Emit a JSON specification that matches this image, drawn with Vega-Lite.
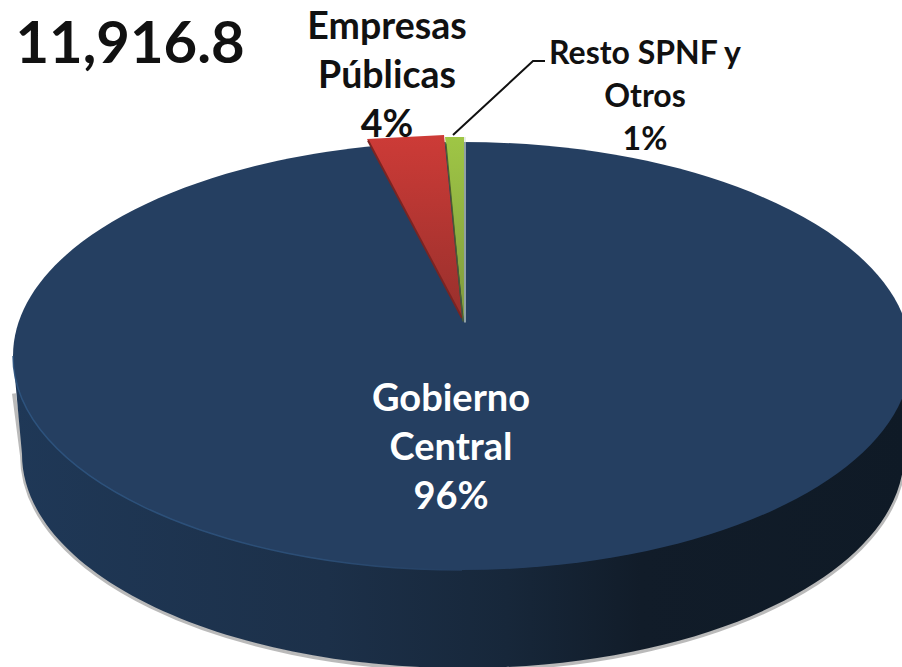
{
"$schema":"https://vega.github.io/schema/vega-lite/v6.json",
"width":902,"height":667,"padding":0,"autosize":{"type":"none"},
"background":"white",
"config":{"view":{"stroke":null}},
"datasets":{
"shares":[
{"segment":"Gobierno Central","share":96,"label":"Gobierno\nCentral\n96%"},
{"segment":"Empresas Públicas","share":4,"label":"Empresas\nPúblicas\n4%"},
{"segment":"Resto SPNF y Otros","share":1,"label":"Resto SPNF y\nOtros\n1%"}
],
"total":[{"total":11916.8}]
},
"data":{"name":"shares"},
"layer":[
{"transform":[{"filter":"datum.segment==='Gobierno Central'"}],
 "mark":{"type":"point","size":4,"filled":false,"opacity":0.5,"stroke":"#777777","strokeWidth":4},
 "encoding":{"shape":{"value":"M-437,60 L-429,122 A441,214 0 0 0 453,122"}}},
{"transform":[{"filter":"datum.segment==='Gobierno Central'"}],
 "mark":{"type":"point","size":4,"filled":true,"opacity":1,"strokeWidth":0,
  "fill":{"gradient":"linear","x1":0,"y1":0,"x2":1,"y2":0,"stops":[{"offset":0,"color":"#1f3857"},{"offset":0.35,"color":"#1c3049"},{"offset":0.55,"color":"#17273a"},{"offset":0.7,"color":"#111c29"},{"offset":1,"color":"#0f1a26"}]}},
 "encoding":{"shape":{"value":"M-438,22.5 L-429,120.5 A441,214 0 0 0 453,120.5 L460,22.5 Z"}}},
{"transform":[{"filter":"datum.segment==='Gobierno Central'"}],
 "mark":{"type":"point","size":4,"filled":true,"opacity":1,"strokeWidth":0,"fill":"#253f61"},
 "encoding":{"shape":{"value":"M-438,22.5 A449,214 0 1 1 460,22.5 A449,214 0 1 1 -438,22.5 Z"}}},
{"transform":[{"filter":"datum.segment==='Gobierno Central'"}],
 "mark":{"type":"point","size":4,"filled":false,"opacity":0.9,"strokeWidth":1.5,
  "stroke":{"gradient":"linear","x1":0,"y1":0,"x2":1,"y2":0,"stops":[{"offset":0,"color":"#2f5682"},{"offset":0.7,"color":"#2d5079"},{"offset":1,"color":"#253f61"}]}},
 "encoding":{"shape":{"value":"M-438,22.5 A449,214 0 0 0 11,236.5"}}},
{"transform":[{"filter":"datum.segment==='Empresas Públicas'"}],
 "mark":{"type":"text","font":"Lato","fontWeight":"bold","fontSize":37.5,"lineHeight":49,"align":"center","baseline":"middle","dx":-64,"dy":-305.5,"lineBreak":"\n","color":"#111111"},
 "encoding":{"text":{"field":"label"}}},
{"transform":[{"filter":"datum.segment==='Empresas Públicas'"}],
 "mark":{"type":"point","size":4,"filled":true,"opacity":1,"strokeWidth":0,
  "fill":{"gradient":"linear","x1":0,"y1":0,"x2":0,"y2":1,"stops":[{"offset":0,"color":"#cd3b37"},{"offset":1,"color":"#98302c"}]}},
 "encoding":{"shape":{"value":"M-84,-194.5 L-7,-198.5 L11,-15.5 Z"}}},
{"transform":[{"filter":"datum.segment==='Empresas Públicas'"}],
 "mark":{"type":"point","size":4,"filled":false,"opacity":1,"stroke":"#7a2422","strokeWidth":2},
 "encoding":{"shape":{"value":"M-83,-193 L11,-15.5"}}},
{"transform":[{"filter":"datum.segment==='Resto SPNF y Otros'"}],
 "mark":{"type":"point","size":4,"filled":true,"opacity":1,"strokeWidth":0,
  "fill":{"gradient":"linear","x1":0,"y1":0,"x2":0,"y2":1,"stops":[{"offset":0,"color":"#9fc645"},{"offset":1,"color":"#7f9a3e"}]}},
 "encoding":{"shape":{"value":"M-6,-196.5 L13,-196.5 L13,-11.5 Z"}}},
{"transform":[{"filter":"datum.segment==='Resto SPNF y Otros'"}],
 "mark":{"type":"point","size":4,"filled":false,"opacity":1,"stroke":"#4f5f2c","strokeWidth":1.2},
 "encoding":{"shape":{"value":"M-5,-190 L12,-12"}}},
{"transform":[{"filter":"datum.segment==='Resto SPNF y Otros'"}],
 "mark":{"type":"point","size":4,"filled":false,"opacity":1,"stroke":"#d9e2d4","strokeWidth":1.2},
 "encoding":{"shape":{"value":"M14,-196.5 L14,-11"}}},
{"transform":[{"filter":"datum.segment==='Resto SPNF y Otros'"}],
 "mark":{"type":"point","size":4,"filled":false,"opacity":1,"stroke":"#111111","strokeWidth":2},
 "encoding":{"shape":{"value":"M2,-198.5 L82,-272.5 L94,-272.5"}}},
{"transform":[{"filter":"datum.segment==='Resto SPNF y Otros'"}],
 "mark":{"type":"text","font":"Lato","fontWeight":"bold","fontSize":32,"lineHeight":43,"align":"center","baseline":"middle","dx":194,"dy":-280,"lineBreak":"\n","color":"#111111"},
 "encoding":{"text":{"field":"label"}}},
{"transform":[{"filter":"datum.segment==='Gobierno Central'"}],
 "mark":{"type":"text","font":"Lato","fontWeight":"bold","fontSize":38,"lineHeight":49,"align":"center","baseline":"middle","dx":0,"dy":66.5,"lineBreak":"\n","color":"#ffffff"},
 "encoding":{"text":{"field":"label"}}},
{"data":{"name":"total"},
 "mark":{"type":"text","font":"Lato","fontWeight":"bold","fontSize":58,"align":"center","baseline":"middle","dx":-321,"dy":-288,"color":"#111111"},
 "encoding":{"text":{"field":"total","type":"quantitative","format":",.1f"}}}
]
}
